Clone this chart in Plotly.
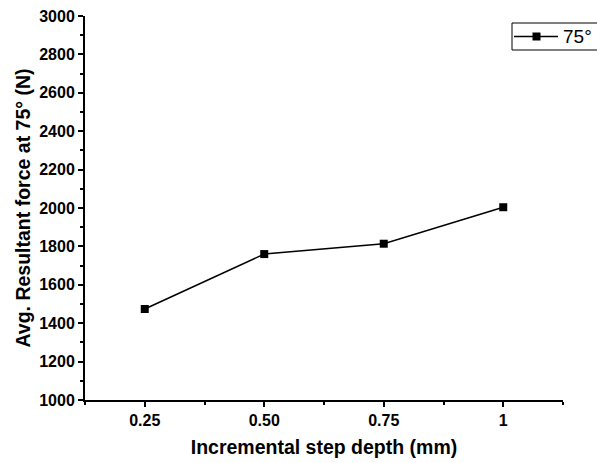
import plotly.graph_objects as go

# Incremental step depth (mm) and averaged resultant force at 75° (N)
step_depth = [0.25, 0.50, 0.75, 1.0]
step_labels = ["0.25", "0.50", "0.75", "1"]
resultant_force = [1474, 1760, 1814, 2004]
series_name = "75°"

FONT = "Liberation Sans, Arial, sans-serif"
W, H = 597, 463
ML, MR, MT, MB = 85, 34, 16, 63
PW, PH = W - ML - MR, H - MT - MB


def px_x(px):
    """Pixel column -> paper x."""
    return (px - ML) / PW


def px_y(py):
    """Pixel row -> paper y."""
    return 1 - (py - MT) / PH


fig = go.Figure()
fig.add_trace(go.Scatter(
    x=step_depth,
    y=resultant_force,
    mode="lines+markers",
    name=series_name,
    line=dict(color="black", width=1.5),
    marker=dict(symbol="square", size=8, color="black"),
    showlegend=False,
))

# Boxed legend in the upper-right corner: line, square marker and label
leg_left, leg_right, leg_top, leg_bot = 512, 599, 23, 50
leg_mid = (leg_top + leg_bot) / 2
shapes = [
    dict(type="rect", xref="paper", yref="paper",
         x0=px_x(leg_left), x1=px_x(leg_right), y0=px_y(leg_bot), y1=px_y(leg_top),
         line=dict(color="black", width=1), fillcolor="white", layer="above"),
    dict(type="line", xref="paper", yref="paper",
         x0=px_x(514), x1=px_x(558), y0=px_y(leg_mid), y1=px_y(leg_mid),
         line=dict(color="black", width=1.5), layer="above"),
    dict(type="rect", xref="paper", yref="paper",
         x0=px_x(532.5), x1=px_x(540.5), y0=px_y(leg_mid + 4), y1=px_y(leg_mid - 4),
         line=dict(color="black", width=0), fillcolor="black", layer="above"),
]
annotations = [
    dict(text=series_name, xref="paper", yref="paper",
         x=px_x(561), y=px_y(leg_mid), xanchor="left", yanchor="middle",
         showarrow=False, font=dict(family=FONT, size=19, color="black")),
]

tick_font = dict(family=FONT, size=16, color="black", weight="bold")
title_font = dict(family=FONT, size=19.5, color="black")

fig.update_layout(
    width=W,
    height=H,
    margin=dict(l=ML, r=MR, t=MT, b=MB, autoexpand=False),
    paper_bgcolor="white",
    plot_bgcolor="white",
    showlegend=False,
    shapes=shapes,
    annotations=annotations,
    xaxis=dict(
        range=[0.125, 1.125],
        tickvals=step_depth,
        ticktext=step_labels,
        showline=True, linecolor="black", linewidth=2,
        ticks="outside", ticklen=5, tickwidth=2, tickcolor="black",
        showgrid=False, zeroline=False,
        tickfont=tick_font,
        minor=dict(tick0=0.125, dtick=0.125, ticks="outside", ticklen=3, tickwidth=2,
                   tickcolor="black", showgrid=False),
        title=dict(text="<b>Incremental step depth (mm)</b>", font=title_font, standoff=12),
    ),
    yaxis=dict(
        range=[1000, 3000],
        tick0=1000, dtick=200,
        showline=True, linecolor="black", linewidth=2,
        ticks="outside", ticklen=5, tickwidth=2, tickcolor="black",
        showgrid=False, zeroline=False,
        tickfont=tick_font,
        minor=dict(dtick=100, ticks="outside", ticklen=3, tickwidth=2,
                   tickcolor="black", showgrid=False),
        title=dict(text="<b>Avg. Resultant force at 75° (N)</b>", font=title_font, standoff=3),
    ),
)

fig.write_html("out.html")
